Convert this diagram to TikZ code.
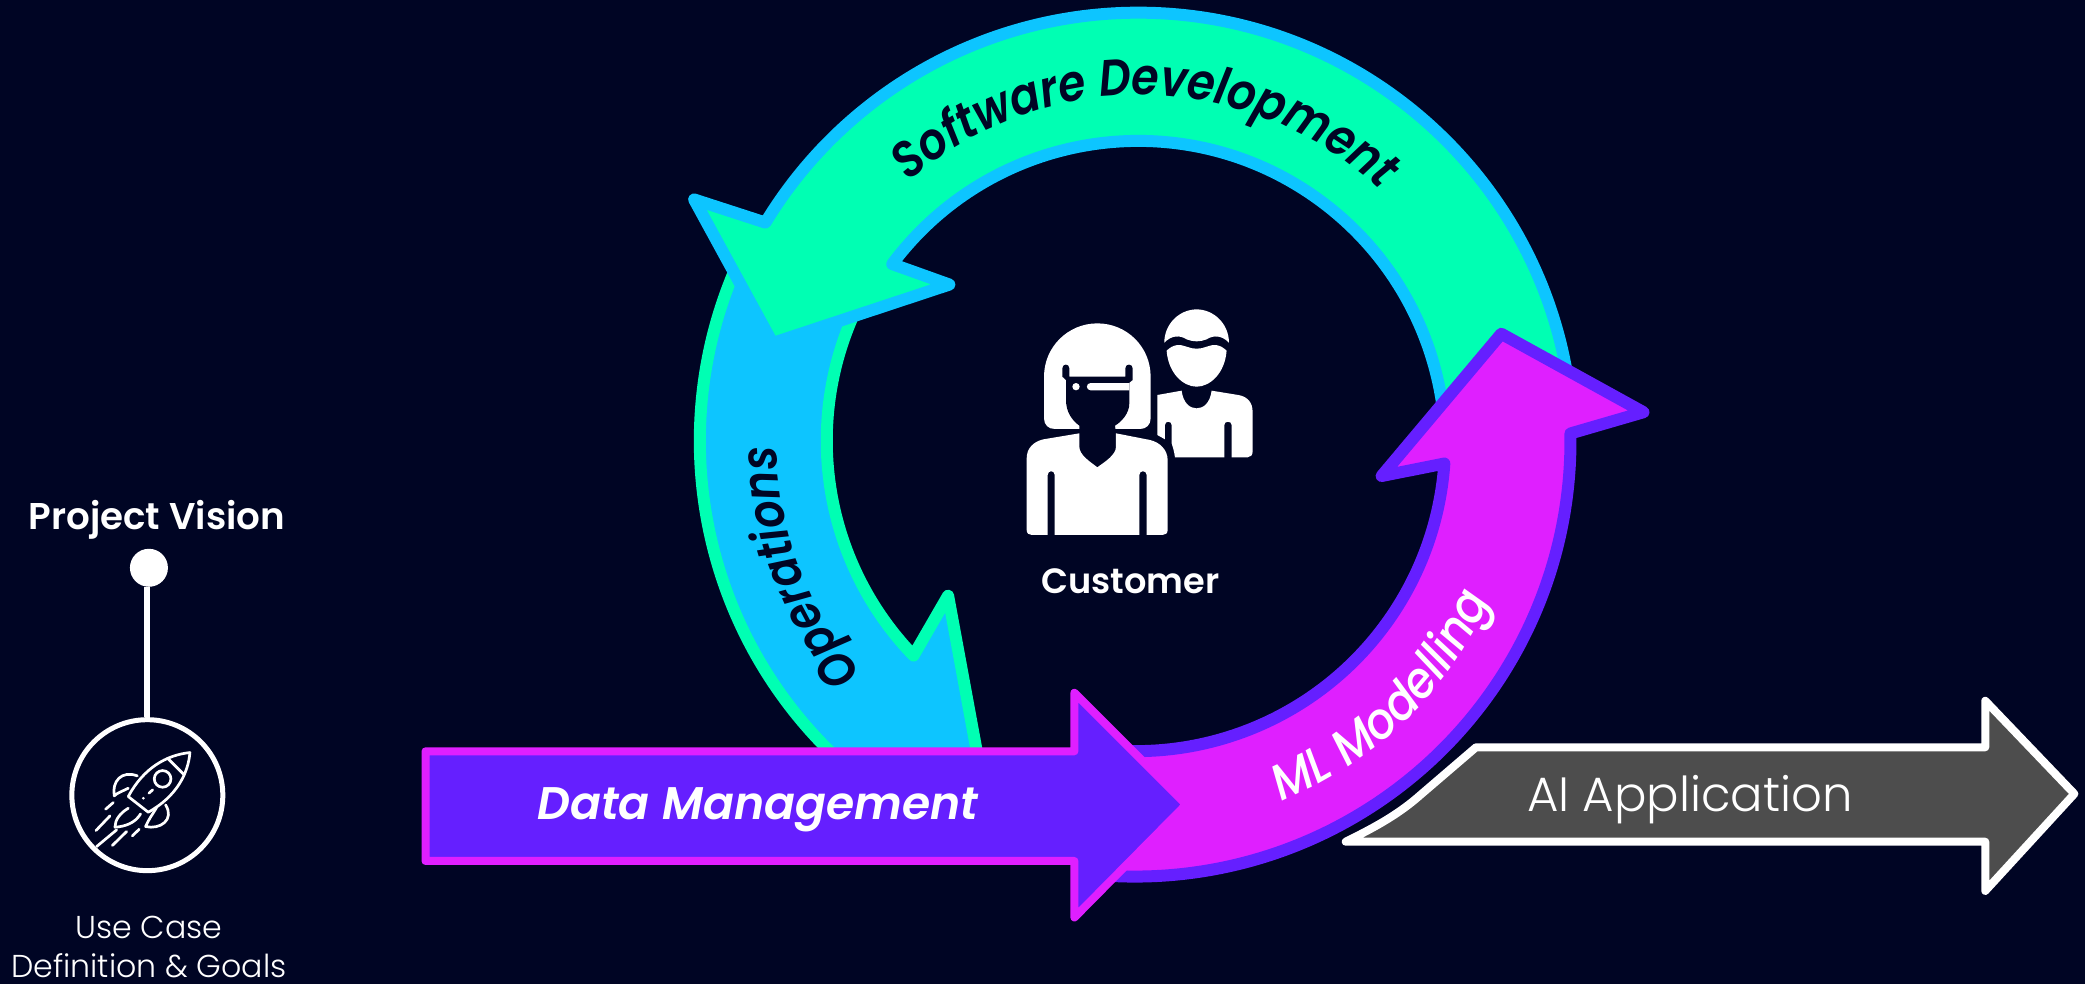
\documentclass[tikz,border=0pt]{standalone}
\usepackage{fontspec}
\setmainfont{Poppins}
\newfontfamily\lightfont{Poppins Light}
\newfontfamily\boldfont{Poppins SemiBold}
\newfontfamily\bandfont[FakeStretch=0.9]{Poppins Medium Italic}
\newfontfamily\darkbandfont[FakeStretch=0.87]{Poppins SemiBold Italic}
\newfontfamily\dataitfont{Poppins SemiBold Italic}
\usetikzlibrary{decorations.text}
\definecolor{bgcol}{HTML}{000524}
\definecolor{tealcol}{HTML}{00FFB3}
\definecolor{bluecol}{HTML}{0DC5FF}
\definecolor{magcol}{HTML}{DF1FFF}
\definecolor{vioCol}{HTML}{651FFF}
\definecolor{greycol}{HTML}{4D4D4D}
\tikzset{
    band/.style={line width=1.2mm,line join=round},
    bar/.style={line width=0.8mm,line join=round},
    icon/.style={white,line width=0.27mm,line cap=round,line join=round},
    solid white/.style={fill=white,draw=none},
    solid dark/.style={fill=bgcol,draw=none},
    caption/.style={text=white,inner sep=0pt,align=center},
    dotnode/.style={circle,fill=white,minimum size=3.8mm,inner sep=0pt},
    ringnode/.style={circle,draw=white,line width=0.5mm,minimum size=15.1mm,inner sep=0pt},
}
\begin{document}
\begin{tikzpicture}[x=0.133mm,y=-0.133mm]
    \useasboundingbox (0,0) rectangle (1568,740);
    \fill[bgcol] (0,0) rectangle (1568,740);

    \draw[band,fill=bluecol,draw=tealcol] (562,183) arc[start angle=207,end angle=130,radius=327.5]
        -- (741,600) -- (713,448) -- (687,493) arc[start angle=136,end angle=207,radius=232.5] -- cycle;
    \draw[band,fill=tealcol,draw=bluecol] (522,150) -- (581,258) -- (714,214) -- (671,198.6)
        arc[start angle=216.8,end angle=355,radius=231]
        -- (1182,308.5) arc[start angle=355,end angle=211.2,radius=327.5] -- cycle;
    \draw[band,fill=magcol,draw=vioCol] (1129,251) -- (1236,310) -- (1181,326)
        arc[start angle=-1,end angle=95,radius=327.5]
        -- (834,564) arc[start angle=95,end angle=4,radius=232.5] -- (1039,358) -- cycle;
    \draw[bar,fill=vioCol,draw=magcol] (320,565) -- (808,565) -- (808,521) -- (892,605)
        -- (808,690) -- (808,647.5) -- (320,647.5) -- cycle;
    \draw[bar,fill=greycol,draw=white] (1012,633) -- (1493,633) -- (1493,670) -- (1560,597) -- (1493,527)
        -- (1493,562) -- (1110,562) -- (1068,598) .. controls (1050,614) and (1030,624) .. (1012,633) -- cycle;

    \path[decorate,decoration={text along path,text align=center,text color=bgcol,
        text={|\darkbandfont\fontsize{14.5pt}{16pt}\selectfont|Software Development}}]
        (597,286) arc[start angle=191,end angle=351,radius=265];
    \path[decorate,decoration={text along path,text align=center,text color=bgcol,
        text={|\darkbandfont\fontsize{14.3pt}{16pt}\selectfont|Operations}}]
        (689.6,546.2) arc[start angle=127.5,end angle=191.5,radius=270];
    \path[decorate,decoration={text along path,text align=center,text color=white,
        text={|\bandfont\fontsize{14.3pt}{16pt}\selectfont|ML Modelling}}]
        (924.6,615.3) arc[start angle=76,end angle=16,radius=292];

    \node[caption,font=\dataitfont\fontsize{13pt}{15pt}\selectfont] (data) at (570,609) {Data Management};
    \node[caption,font=\lightfont\fontsize{13.7pt}{16pt}\selectfont] (app) at (1271,601) {AI Application};
    \node[caption,font=\boldfont\fontsize{10pt}{12pt}\selectfont] (customer) at (850,437) {Customer};
    \node[caption,font=\boldfont\fontsize{10.6pt}{12pt}\selectfont] (title) at (118,391) {Project Vision};
    \node[caption,font=\lightfont\fontsize{9pt}{11.2pt}\selectfont] (usecase) at (112,712) {Use Case\\Definition \& Goals};

    \node[dotnode] (vision) at (112,427) {};
    \node[ringnode] (rocket) at (110.8,598) {};
    \draw[white,line width=0.53mm] (110.6,427 |- vision.south) -- (110.6,427 |- rocket.north);

    \begin{scope}[x=0.03333mm,y=-0.03333mm,shift={(0mm,-48.01mm)}]
        \draw[icon] (570,818) .. controls (500,825) and (430,865) .. (385,950) -- (445,997)
            .. controls (530,950) and (565,880) .. (570,818) -- cycle;
        \draw[icon] (503,835) -- (553,885);
        \draw[icon] (488,897) circle (25);
        \draw[icon] (430,955) -- (431,955) (447,940) -- (458,930);
        \draw[icon] (385,925) .. controls (365,935) and (350,940) .. (343,948)
            .. controls (335,905) and (365,870) .. (412,888);
        \draw[icon] (470,983) .. controls (460,1000) and (445,1020) .. (437,1040)
            .. controls (480,1050) and (525,1020) .. (497,975);
        \draw[icon] (385,985) .. controls (360,1000) and (345,1020) .. (345,1042)
            .. controls (375,1040) and (405,1030) .. (422,1002);
        \draw[icon] (317,988) -- (340,968);
        \draw[icon] (288,1052) -- (330,1008);
        \draw[icon] (290,1100) -- (350,1050);
        \draw[icon] (337,1097) -- (380,1055);
        \draw[icon] (397,1068) -- (418,1048);
    \end{scope}

    \begin{scope}[x=0.03333mm,y=-0.03333mm,shift={(98.02mm,-28.01mm)}]
        \fill[solid white] (553,188) .. controls (553,130) and (600,88) .. (650,88)
            .. controls (700,88) and (747,130) .. (747,188)
            .. controls (725,165) and (700,165) .. (680,178) .. controls (660,186) and (640,186) .. (620,178)
            .. controls (600,165) and (575,165) .. (553,188) -- cycle;
        \fill[solid white] (560,212) .. controls (580,192) and (600,192) .. (620,200) .. controls (640,208) and (660,208) .. (680,200)
            .. controls (700,192) and (720,192) .. (740,212) .. controls (735,280) and (690,320) .. (650,320)
            .. controls (610,320) and (565,280) .. (560,212) -- cycle;
        \fill[solid white] (532,345) -- (605,332) .. controls (610,370) and (630,385) .. (650,385)
            .. controls (670,385) and (690,370) .. (695,332) -- (775,345) .. controls (805,350) and (818,370) .. (818,395)
            -- (818,515) .. controls (818,525) and (812,532) .. (803,532) -- (755,532) -- (755,435)
            .. controls (755,422) and (733,422) .. (733,435) -- (733,532) -- (585,532)
            .. controls (582,510) and (578,500) .. (575,490) -- (575,435)
            .. controls (575,422) and (555,422) .. (555,435) -- (555,478) -- (532,465) -- cycle;

        \fill[solid white] (192,290) .. controls (192,200) and (265,130) .. (352,130)
            .. controls (440,130) and (512,200) .. (512,290) -- (512,415)
            .. controls (512,435) and (498,447) .. (480,447) -- (225,447)
            .. controls (205,447) and (192,435) .. (192,415) -- cycle;
        \fill[solid dark] (247,265) .. controls (247,250) and (268,250) .. (268,265) -- (268,290) -- (436,290) -- (436,265)
            .. controls (436,250) and (458,250) .. (458,265) -- (458,300) -- (448,308) -- (448,370)
            .. controls (448,400) and (425,425) .. (405,437) -- (408,460) -- (298,460) -- (298,437)
            .. controls (275,420) and (258,395) .. (258,360) -- (258,300) -- (247,290) -- cycle;
        \fill[solid white] (332,309) -- (448,309) -- (448,331) -- (332,331) .. controls (317,331) and (317,309) .. (332,309) -- cycle;
        \fill[solid white] (288,320) circle (11);
        \fill[solid white] (140,535) .. controls (140,505) and (160,485) .. (190,478) -- (298,460) -- (298,500)
            .. controls (298,525) and (330,545) .. (352,562) .. controls (375,545) and (408,525) .. (408,500)
            -- (408,460) -- (510,480) .. controls (540,487) and (563,510) .. (563,540)
            -- (563,750) .. controls (563,760) and (557,765) .. (548,765) -- (500,765) -- (500,585)
            .. controls (500,570) and (478,570) .. (478,585) -- (478,765) -- (224,765) -- (224,585)
            .. controls (224,570) and (203,570) .. (203,585) -- (203,765) -- (155,765)
            .. controls (146,765) and (140,760) .. (140,750) -- cycle;
    \end{scope}
\end{tikzpicture}
\end{document}
